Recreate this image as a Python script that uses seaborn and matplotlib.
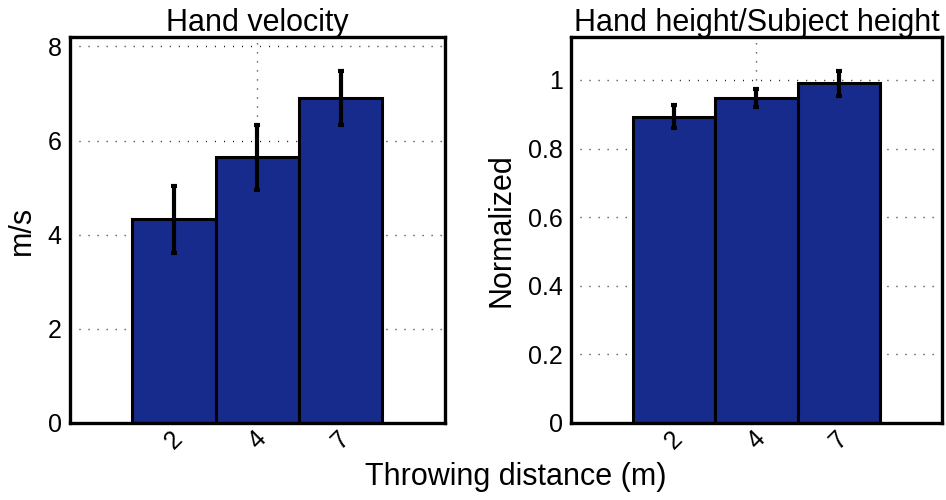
import numpy as np
import pandas as pd
import matplotlib
matplotlib.use("Agg")
import matplotlib.pyplot as plt
import matplotlib.transforms as mtransforms
import seaborn as sns

# ---- data ----
distances = ["2", "4", "7"]
velocity = [4.33, 5.65, 6.90]
velocity_err = [0.71, 0.69, 0.58]
height_ratio = [0.893, 0.946, 0.990]
height_ratio_err = [0.034, 0.026, 0.037]

sns.set_style("white")
plt.rcParams["font.family"] = ["Liberation Sans", "DejaVu Sans"]
plt.rcParams["text.color"] = "black"
plt.rcParams["axes.labelcolor"] = "black"
plt.rcParams["xtick.color"] = "black"
plt.rcParams["ytick.color"] = "black"

BAR_COLOR = "#172b8c"

fig = plt.figure(figsize=(9.46, 5.0), dpi=100)
ax1 = fig.add_axes([0.074, 0.154, 0.396, 0.772])
ax2 = fig.add_axes([0.6036, 0.154, 0.392, 0.772])


def draw_panel(ax, values, errs, title, ylabel, ylim, yticks, yticklabels):
    df = pd.DataFrame({"dist": distances, "val": values})
    # dotted grid behind the bars
    for t in yticks:
        ax.axhline(t, color="#111111", lw=1.0, ls=(0, (0.7, 5.8)), zorder=0)
    ax.axvline(1, color="#111111", lw=1.0, ls=(0, (0.7, 5.8)), zorder=0)
    sns.barplot(data=df, x="dist", y="val", color=BAR_COLOR, saturation=1,
                width=1.0, edgecolor="black", linewidth=2.2, ax=ax, zorder=2)
    ax.errorbar(np.arange(len(values)), values, yerr=errs, fmt="none",
                ecolor="black", elinewidth=3.0, capsize=2.5, capthick=3.0, zorder=3)
    ax.set_xlim(-1.25, 3.25)
    ax.set_ylim(*ylim)
    ax.set_yticks(yticks)
    ax.set_yticklabels(yticklabels)
    ax.set_title(title, fontsize=22, pad=4, color="black")
    ax.set_ylabel(ylabel, fontsize=22, labelpad=8)
    ax.set_xlabel("")
    ax.tick_params(axis="y", length=0, labelsize=18, pad=6)
    ax.tick_params(axis="x", length=0, labelsize=18, pad=2)
    for lbl in ax.get_xticklabels():
        lbl.set_rotation(45)
        lbl.set_ha("center")
        lbl.set_rotation_mode("anchor")
        lbl.set_va("center")
    for s in ax.spines.values():
        s.set_visible(True)
        s.set_linewidth(2.4)
        s.set_color("black")


draw_panel(ax1, velocity, velocity_err, "Hand velocity", "m/s",
           (0, 8.2), [0, 2, 4, 6, 8], ["0", "2", "4", "6", "8"])
draw_panel(ax2, height_ratio, height_ratio_err, "Hand height/Subject height", "Normalized",
           (0, 1.125), [0, 0.2, 0.4, 0.6, 0.8, 1.0], ["0", "0.2", "0.4", "0.6", "0.8", "1"])

# shift rotated x tick labels to sit just under the axis
offset = mtransforms.ScaledTranslation(0, -10 / 72, fig.dpi_scale_trans)
for ax in (ax1, ax2):
    for lbl in ax.get_xticklabels():
        lbl.set_transform(lbl.get_transform() + offset)

fig.text(0.545, 0.045, "Throwing distance (m)", ha="center", va="center", fontsize=22)

fig.savefig("out.png", dpi=100)
